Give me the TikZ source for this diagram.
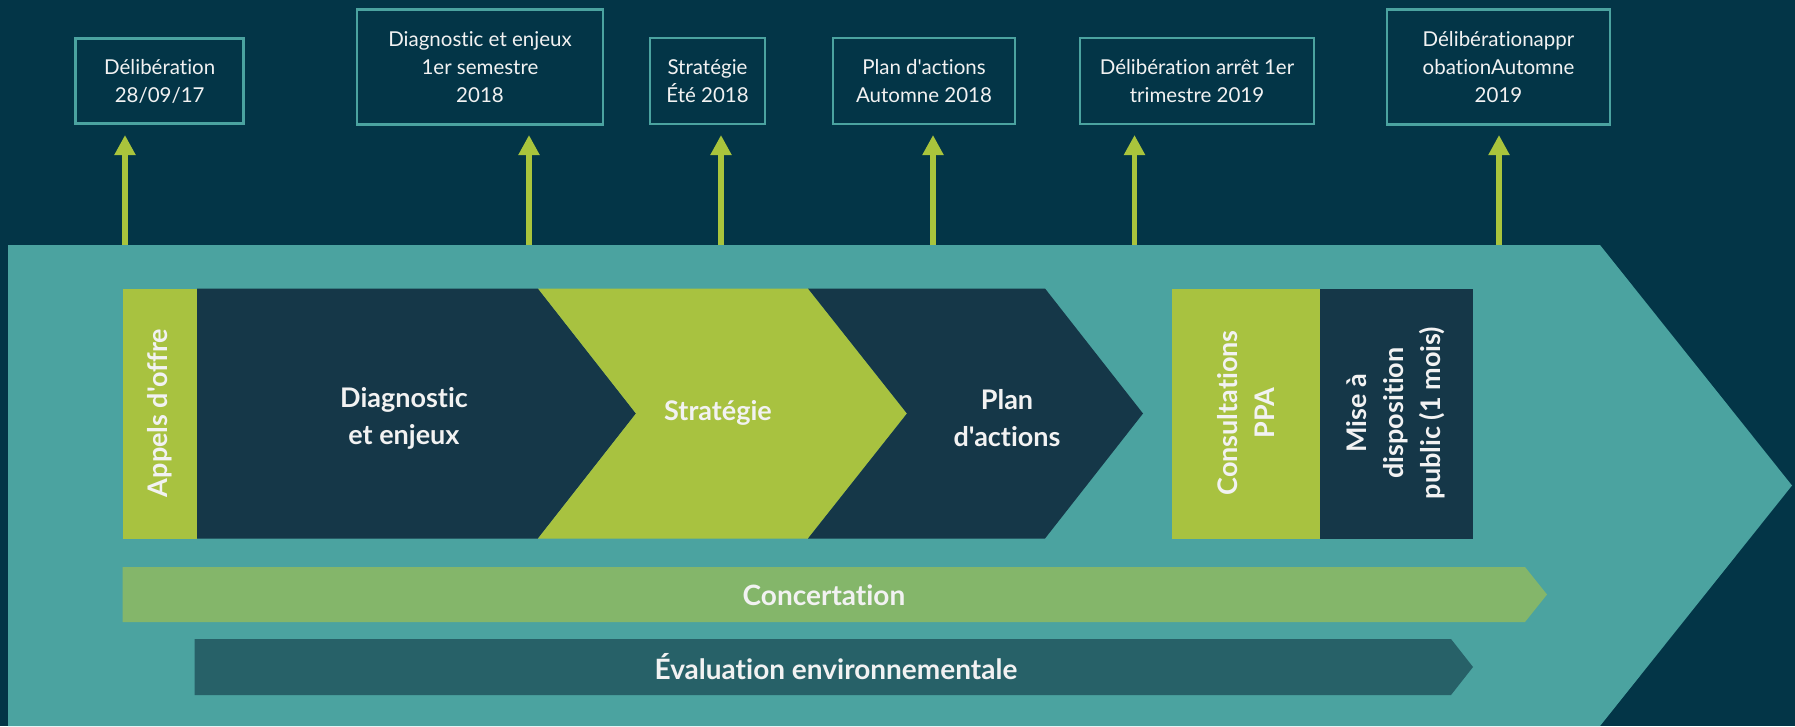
\documentclass[tikz,border=0pt]{standalone}
\usepackage{fontspec}
\setmainfont{Lato}[Ligatures={NoCommon,TeXOff}]
\usetikzlibrary{arrows.meta}
\definecolor{bgdark}{HTML}{033547}
\definecolor{tealband}{HTML}{4BA3A0}
\definecolor{navy}{HTML}{153748}
\definecolor{lime}{HTML}{A8C240}
\definecolor{concert}{HTML}{84B66A}
\definecolor{evalc}{HTML}{276168}
\definecolor{arrowc}{HTML}{A9C43C}
\definecolor{txt}{HTML}{F2F2F2}
\tikzset{
  datebox/.style={draw=tealband, line width=2.8pt, fill=bgdark, text=txt, align=center,
    font=\fontsize{20.5}{28}\selectfont, inner sep=0pt},
  uparrow/.style={draw=arrowc, line width=5.5pt, -{Triangle[width=20pt,length=20pt]}},
  phaselabel/.style={text=txt, align=center, font=\bfseries\fontsize{27}{37}\selectfont},
  barlabel/.style={text=txt, align=center, font=\bfseries\fontsize{28}{32}\selectfont},
}
\begin{document}
\begin{tikzpicture}[x=1pt,y=-1pt]
\fill[bgdark] (0,0) rectangle (1795,726);
\useasboundingbox (0,0) rectangle (1795,726);
% big teal arrow
\fill[tealband] (8,245) -- (1600,245) -- (1792,485.5) -- (1600,726) -- (8,726) -- cycle;

% top boxes
\node[datebox, minimum width=168pt, minimum height=85pt] (b1) at (159.7,81.3) {Délibération\\28/09/17};
\node[datebox, minimum width=246pt, minimum height=115pt] (b2) at (480,67) {Diagnostic et enjeux\\1er semestre\\2018};
\node[datebox, minimum width=115pt, minimum height=86pt] (b3) at (707.5,81) {Stratégie\\Été 2018};
\node[datebox, minimum width=182pt, minimum height=86pt] (b4) at (924,81) {Plan d'actions\\Automne 2018};
\node[datebox, minimum width=234pt, minimum height=86pt] (b5) at (1197,81) {Délibération arrêt 1er\\trimestre 2019};
\node[datebox, minimum width=223pt, minimum height=115pt] (b6) at (1498.5,67) {Délibérationappr\\obationAutomne\\2019};

% arrows
\foreach \i/\x in {1/125,2/529,3/721,4/933,5/1134.5,6/1499}{
  \coordinate (s\i) at (\x,245);
  \coordinate (e\i) at (\x,135);
  \draw[uparrow] (s\i) -- (e\i);
}

% phases
\fill[lime] (122.5,288.5) rectangle (197,538.5);
\fill[navy] (197,288.5) -- (538,288.5) -- (636,413.5) -- (538,538.5) -- (197,538.5) -- cycle;
\fill[lime] (538,288.5) -- (808,288.5) -- (907,413.5) -- (808,538.5) -- (538,538.5) -- (636,413.5) -- cycle;
\fill[navy] (808,288.5) -- (1045,288.5) -- (1143,413.5) -- (1045,538.5) -- (808,538.5) -- (907,413.5) -- cycle;
\fill[lime] (1172,288.5) rectangle (1320,538.5);
\fill[navy] (1320,288.5) rectangle (1473,538.5);

\node[phaselabel, rotate=90] (appels) at (160,413) {Appels d'offre};
\node[phaselabel] (diag) at (404,418) {Diagnostic\\et enjeux};
\node[phaselabel] (strat) at (718,413) {Stratégie};
\node[phaselabel] (plan) at (1007,418) {Plan\\d'actions};
\node[phaselabel, rotate=90] (consult) at (1246,413) {Consultations\\PPA};
\node[phaselabel, rotate=90] (mise) at (1396,413) {Mise à\\disposition\\public (1 mois)};

% bars
\fill[concert] (122.5,567) -- (1525,567) -- (1547,594.5) -- (1525,622) -- (122.5,622) -- cycle;
\node[barlabel] (concertation) at (824,595) {Concertation};
\fill[evalc] (194.6,639) -- (1451,639) -- (1473,667) -- (1451,695) -- (194.6,695) -- cycle;
\node[barlabel] (evaluation) at (836,667) {Évaluation environnementale};
\end{tikzpicture}
\end{document}
